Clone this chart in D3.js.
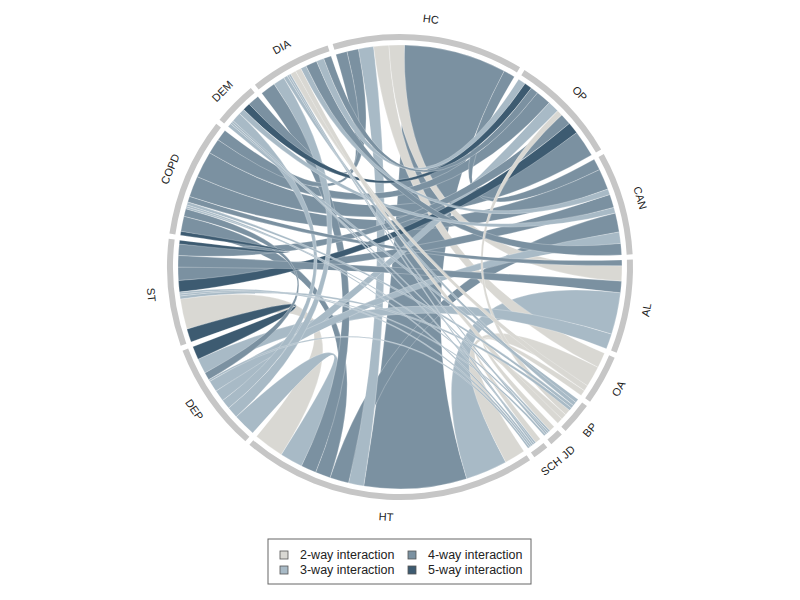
<!DOCTYPE html>
<html>
<head>
<meta charset="utf-8">
<script src="https://cdn.jsdelivr.net/npm/d3@7"></script>
<style>
  body { margin: 0; background: #fff; }
  text { font-family: "Liberation Sans", Arial, sans-serif; fill: #222; }
</style>
</head>
<body>
<svg id="chart" width="800" height="600"></svg>
<script>
// sectors, clockwise from the top
const sectors = ["HC", "OP", "CAN", "AL", "OA", "BP", "JD", "SCH", "HT", "DEP", "ST", "COPD", "DEM", "DIA"];

// link ends of every sector in clockwise order: [partner, n-way interaction, width]
const HC   = [["DEM",4,3],["COPD",4,3],["HT",3,4],["OA",2,4],["AL",2,4],["HT",4,27],["CAN",4,3]];
const OP   = [["DIA",3,2],["DEM",5,2],["DIA",4,2],["COPD",4,4],["DEP",3,3],["BP",2,1.5],["ST",4,3],["ST",5,3],["COPD",4,7]];
const CAN  = [["HC",4,3],["COPD",4,5.5],["DIA",3,1.5],["ST",4,3.5],["DEM",3,1.5],["HT",4,5],["DEP",3,3],["DIA",4,3]];
const AL   = [["COPD",4,1.5],["HC",2,4],["ST",4,3],["HT",3,11],["DEP",3,4]];
const OA   = [["HC",2,4],["HT",2,5.5],["DIA",2,1.5],["JD",2,1.5]];
const BP   = [["DEM",3,1],["DIA",3,1],["COPD",3,0.8],["ST",3,0.8],["OP",2,1.5],["SCH",2,1.5],["DIA",2,1.5]];
const JD   = [["OA",2,1.5],["DEM",3,0.5],["COPD",3,0.5],["DIA",3,0.5],["ST",3,0.5]];
const SCH  = [["BP",2,1.5],["DEM",3,0.5],["DIA",3,0.5],["COPD",3,0.5],["ST",3,0.5],["DEP",3,0.5]];
const HT   = [["OA",2,5.5],["AL",3,11],["HC",4,27],["HC",3,4],["CAN",4,5],["COPD",4,4],["DIA",4,4],["DEP",3,6],["ST",2,8]];
const DEP  = [["HT",3,6],["DIA",3,3],["DEM",3,2.5],["OP",3,3],["CAN",3,3],["SCH",3,0.5],["COPD",4,2],["AL",3,4],["ST",5,3.5]];
const ST   = [["DEP",5,3.5],["HT",2,8],["BP",3,0.8],["JD",3,0.5],["SCH",3,0.5],["OP",5,3],["CAN",4,3.5],["AL",4,3],["OP",4,3],["COPD",5,1]];
const COPD = [["ST",5,1],["HT",4,4],["DEP",4,2],["JD",3,0.5],["SCH",3,0.5],["BP",3,0.8],["AL",4,1.5],["CAN",4,5.5],["OP",4,7],["OP",4,4],["HC",4,3]];
const DEM  = [["BP",3,1],["JD",3,0.5],["SCH",3,0.5],["DEP",3,2.5],["CAN",3,1.5],["OP",5,2],["HC",4,3]];
const DIA  = [["HT",4,4],["DEP",3,3],["BP",3,1],["JD",3,0.5],["SCH",3,0.5],["OA",2,1.5],["BP",2,1.5],["CAN",3,1.5],["CAN",4,3],["OP",3,2],["OP",4,2]];

const types = [2, 3, 4, 5];
const typeLabels = ["2-way interaction", "3-way interaction", "4-way interaction", "5-way interaction"];
const typeColors = ["#d9d8d3", "#a8bac6", "#7b91a1", "#3d5b71"];

const ends = { HC, OP, CAN, AL, OA, BP, JD, SCH, HT, DEP, ST, COPD, DEM, DIA };

const cx = 400, cy = 267,
      outerR = 233, innerR = 227, ribbonR = 222, labelR = 250;
const gap = 1.3 * Math.PI / 180;
const start0 = -16.8 * Math.PI / 180;

const svg = d3.select("#chart");
const g = svg.append("g").attr("transform", `translate(${cx},${cy})`);

const color = d3.scaleOrdinal().domain(types).range(typeColors);

// angular layout of the sectors and their link ends
const totals = sectors.map(s => d3.sum(ends[s], e => e[2]));
const angle = d3.scaleLinear()
  .domain([0, d3.sum(totals)])
  .range([0, 2 * Math.PI - gap * sectors.length]);

let cum = 0;
const groups = sectors.map((s, i) => {
  const off = start0 + i * gap;
  const grp = { name: s, startAngle: off + angle(cum) };
  let c = cum;
  grp.ends = ends[s].map(([partner, type, value]) => {
    const e = { partner, type, value, startAngle: off + angle(c) };
    c += value;
    e.endAngle = off + angle(c);
    e.used = false;
    return e;
  });
  cum += totals[i];
  grp.endAngle = off + angle(cum);
  return grp;
});

// pair the ends up into links
const byName = new Map(groups.map(d => [d.name, d]));
const links = [];
groups.forEach(grp => grp.ends.forEach(e => {
  if (e.used) return;
  const other = byName.get(e.partner).ends;
  const m = other.find(o => !o.used && o.partner === grp.name && o.type === e.type && o.value === e.value)
         || other.find(o => !o.used && o.partner === grp.name && o.type === e.type);
  if (!m) return;
  e.used = m.used = true;
  links.push({ source: e, target: m, type: e.type, value: e.value });
}));

// ribbons, wide ones first so the thin ones stay visible
const ribbon = d3.ribbon().radius(ribbonR);
g.append("g")
  .selectAll("path")
  .data(links.sort((a, b) => b.value - a.value))
  .join("path")
  .attr("d", ribbon)
  .attr("fill", d => color(d.type))
  .attr("stroke", "#fff")
  .attr("stroke-width", 0.35)
  .attr("stroke-opacity", 0.7);

// outer sector arcs
const arc = d3.arc().innerRadius(innerR).outerRadius(outerR);
g.append("g")
  .selectAll("path")
  .data(groups)
  .join("path")
  .attr("d", arc)
  .attr("fill", "#c6c6c6");

// sector labels, bent along the circle
g.append("g")
  .selectAll("text")
  .data(groups)
  .join("text")
  .attr("transform", d => {
    const a = (d.startAngle + d.endAngle) / 2;
    let deg = a * 180 / Math.PI;
    deg = ((deg % 360) + 360) % 360;
    const x = labelR * Math.sin(a), y = -labelR * Math.cos(a);
    const rot = (deg > 90 && deg < 270) ? deg - 180 : deg;
    return `translate(${x},${y}) rotate(${rot})`;
  })
  .attr("text-anchor", "middle")
  .attr("dominant-baseline", "central")
  .style("font-size", "11px")
  .text(d => d.name);

// legend
const legend = svg.append("g").attr("transform", "translate(268,539)");
legend.append("rect")
  .attr("width", 263).attr("height", 45)
  .attr("fill", "#fff")
  .attr("stroke", "#666")
  .attr("stroke-width", 1);

const item = legend.selectAll("g.item")
  .data(types)
  .join("g")
  .attr("class", "item")
  .attr("transform", (d, i) => `translate(${i < 2 ? 12 : 140},${i % 2 === 0 ? 12 : 27})`);

item.append("rect")
  .attr("width", 8).attr("height", 8)
  .attr("fill", d => color(d))
  .attr("stroke", "#555")
  .attr("stroke-width", 0.8);

item.append("text")
  .attr("x", 20).attr("y", 4)
  .attr("dominant-baseline", "central")
  .style("font-size", "12.5px")
  .text((d, i) => typeLabels[i]);
</script>
</body>
</html>
